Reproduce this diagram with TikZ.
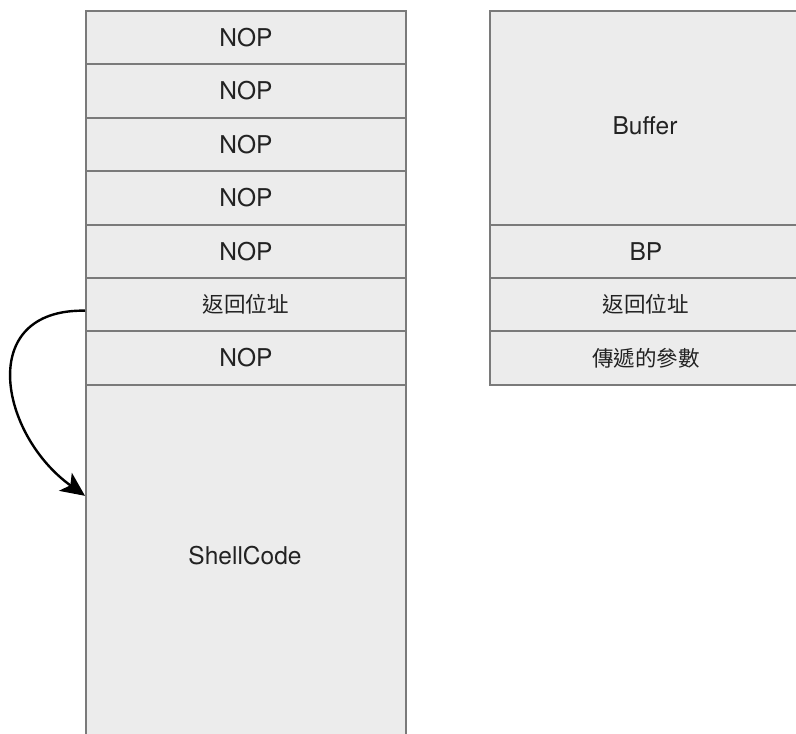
\documentclass[tikz,border=0pt]{standalone}
\usepackage{fontspec}
\setmainfont{TeX Gyre Heros}
\newfontfamily\cjk{Noto Sans CJK TC}
\usetikzlibrary{arrows.meta}

\definecolor{cellfill}{RGB}{236,236,236}
\definecolor{cellline}{RGB}{122,122,122}
\definecolor{celltext}{RGB}{34,34,34}

\tikzset{
  cell/.style={draw=cellline, fill=cellfill, line width=1.9pt,
    rectangle, anchor=north west, inner sep=0pt,
    minimum width=320pt, minimum height=53.4pt,
    text=celltext, font=\fontsize{24.5}{26}\selectfont},
  cjkcell/.style={cell, font=\cjk\fontsize{21.5}{24}\selectfont},
  rcell/.style={minimum width=312pt},
  label text/.style={text=celltext, font=\fontsize{24.5}{26}\selectfont, inner sep=0pt},
  jump/.style={line width=2.4pt, black, -{Stealth[length=24pt,width=22pt,inset=6pt]}}
}

\begin{document}
\begin{tikzpicture}[x=1pt,y=-1pt]
  \useasboundingbox (0,0) rectangle (796,734);
  \clip (0,0) rectangle (796,734);

  % exploit stack (left)
  \node[cell] (n1) at (85,10.0)  {NOP};
  \node[cell] (n2) at (85,63.4)  {NOP};
  \node[cell] (n3) at (85,116.8) {NOP};
  \node[cell] (n4) at (85,170.2) {NOP};
  \node[cell] (n5) at (85,223.6) {NOP};
  \node[cjkcell] (ret) at (85,277.0) {返回位址};
  \node[cell] (n6) at (85,330.4) {NOP};
  \node[cell, minimum height=360pt] (sc) at (85,383.8) {};
  \node[label text] (sctext) at (245,556) {ShellCode};

  % normal stack frame (right)
  \node[cell, rcell, minimum height=213.6pt] (buf) at (489,10.0) {};
  \node[label text] (buftext) at (645,126) {Buffer};
  \node[cell, rcell] (bp) at (489,223.6) {BP};
  \node[cjkcell, rcell] (rret) at (489,277.0) {返回位址};
  \node[cjkcell, rcell] (args) at (489,330.4) {傳遞的參數};

  % return address redirected into the shellcode
  \coordinate (from) at ([yshift=-6pt]ret.west);
  \coordinate (to) at ([yshift=-112pt]sc.north west);
  \draw[jump] (from) .. controls (-25,309) and (0,435) .. (to);
\end{tikzpicture}
\end{document}
